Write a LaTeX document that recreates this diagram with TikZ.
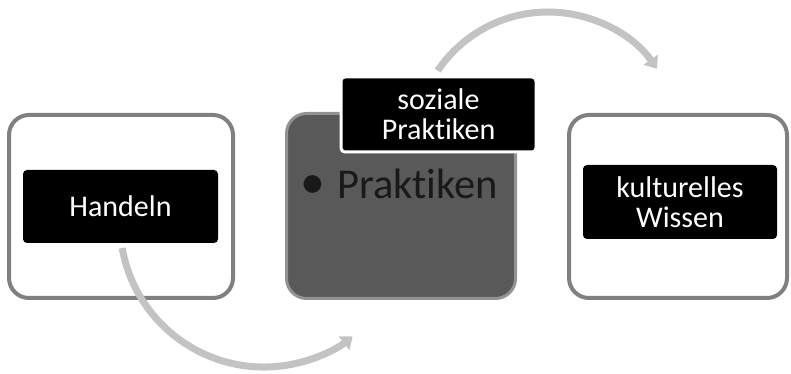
\documentclass[tikz,border=0pt]{standalone}
\usepackage{fontspec}
\setmainfont{Carlito}[Ligatures={NoCommon}]
\usetikzlibrary{arrows.meta,calc}
\definecolor{frame}{HTML}{808080}
\definecolor{midfill}{HTML}{595959}
\definecolor{arrowgray}{HTML}{C3C3C3}
\begin{document}
\begin{tikzpicture}[x=1pt,y=1pt,
  outerbox/.style={rounded corners=20pt,line width=4pt,draw=frame,fill=white,
    minimum width=224pt,minimum height=183pt,inner sep=0pt},
  midbox/.style={rounded corners=20pt,line width=3pt,draw=frame!85,fill=midfill,
    minimum width=229pt,minimum height=185pt,inner sep=0pt},
  label/.style={rounded corners=4pt,fill=black,text=white,align=center,
    inner sep=0pt,font=\fontsize{30}{30}\selectfont},
  cyclearrow/.style={draw=arrowgray,line width=7pt,
    -{Triangle[length=11pt,width=17pt]}}]
\useasboundingbox (0,0) rectangle (791,374);

% upper process arrow (behind the boxes)
\coordinate (topc) at (548,229);
\coordinate (topstart) at ($(topc)+(146:133)$);
\draw[cyclearrow] (topstart) arc[start angle=146,end angle=35,radius=133pt];

% three process steps
\node[outerbox] (left) at (121,167.5) {};
\node[midbox] (mid) at (401,168) {};
\node[outerbox,minimum width=218pt] (right) at (678,167.5) {};

% lower process arrow, running out of the first step
\coordinate (lowc) at (264,151);
\coordinate (lowstart) at ($(lowc)+(190:144)$);
\draw[cyclearrow] (lowstart) arc[start angle=190,end angle=308,radius=144pt];

\node[label,minimum width=195pt,minimum height=73pt] (handeln) at (120.5,167.5) {Handeln};
\node[label,minimum width=194pt,minimum height=74pt] (wissen) at (680,172) {kulturelles\\Wissen};

\node[anchor=base west,text=black!90,inner sep=0pt,
  font=\fontsize{42.5}{42.5}\selectfont] (praktiken) at (300,175)
  {{\fontsize{50}{50}\selectfont•}\hspace{12pt}Praktiken};

\node[label,draw=white,line width=3pt,minimum width=195pt,minimum height=75pt]
  (sozial) at (438.5,259.5) {soziale\\Praktiken};
\end{tikzpicture}
\end{document}
